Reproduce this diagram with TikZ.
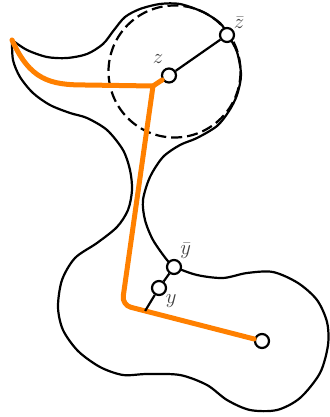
\documentclass[tikz,border=0pt]{standalone}
\usepackage{tikz}
\usetikzlibrary{calc}

\begin{document}
\begin{tikzpicture}[x=1pt, y=-1pt, line width=2.2pt]
        \tikzstyle{dot} = [circle, draw, fill=white, line width=2.2pt, minimum size=14pt, inner sep=0pt]
        \tikzstyle{lbl} = [text=black!75, font=\fontsize{20.74}{25}\selectfont]
        \tikzstyle{geod} = [draw, orange, line width=5pt, line cap=round, line join=round]

        \useasboundingbox (0,0) rectangle (329,417);

        % outline of the domain
        \draw plot[smooth, tension=0.5] coordinates {(12,40) (27,50) (47,57) (67,58) (87,54) (103,44) (114,30) (125,17) (140,9) (160,4) (180,4) (203,12) (220,23) (228,35) (237,52) (241,75) (237,95) (229,111) (217,126) (197,138) (180,145) (163,157) (150,177) (143,200) (145,220) (153,240) (167,260) (175,267) (197,275) (223,278) (247,273) (273,272) (298,283) (317,300) (327,322) (328,345) (320,373) (300,398) (277,410) (250,410) (227,400) (207,385) (180,375) (147,374) (123,375) (100,367) (78,351) (63,330) (58,307) (62,280) (75,258) (97,243) (117,227) (128,210) (132,190) (130,170) (123,150) (107,130) (87,118) (70,113) (50,105) (33,93) (20,77) (13,60) (12,40)};
        \draw [dash pattern=on 11pt off 5pt] (174.5,71.5) circle (66);

        \coordinate (tip) at (12,40);
        \coordinate (join) at (153,86);
        \coordinate (bend) at (122,305);

        \node [dot, label={[lbl, label distance=0pt]100:$z$}] (z) at (169,75.5) {};
        \node [dot, label={[lbl, label distance=-5pt]40:$\bar{z}$}] (zbar) at (227,35) {};
        \node [dot, label={[lbl, label distance=-4pt]60:$\bar{y}$}] (ybar) at (174,267) {};
        \node [dot, label={[lbl, label distance=-5pt]-40:$y$}] (y) at (159,288) {};
        \node [dot] (w) at (262,341) {};
        \coordinate (yfoot) at ($(bend)!0.165!(w)$);

        \path [geod] (tip) .. controls (30,80) and (50,85) .. (85,85) -- (join) -- (z);
        \path [geod, rounded corners=9pt] (join) -- (bend) -- (w);

        \draw (zbar) -- (z);
        \draw (ybar) -- (y) -- (yfoot);
\end{tikzpicture}
\end{document}
